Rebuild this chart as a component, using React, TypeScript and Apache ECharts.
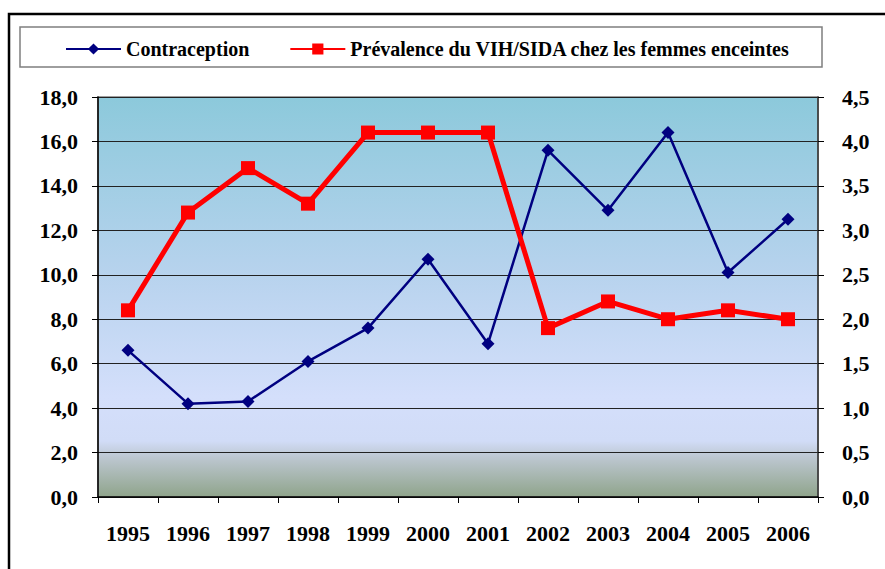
import React, { useEffect, useRef } from "react";
import * as echarts from "echarts";

const years = ["1995", "1996", "1997", "1998", "1999", "2000", "2001", "2002", "2003", "2004", "2005", "2006"];
const contraception = [6.6, 4.2, 4.3, 6.1, 7.6, 10.7, 6.9, 15.6, 12.9, 16.4, 10.1, 12.5];
const prevalence = [2.1, 3.2, 3.7, 3.3, 4.1, 4.1, 4.1, 1.9, 2.2, 2.0, 2.1, 2.0];
const seriesNames = ["Contraception", "Prévalence du VIH/SIDA chez les femmes enceintes"];

const FONT = "serif";
const fmt = (v: number) => v.toFixed(1).replace(".", ",");

export default function App() {
  const ref = useRef<HTMLDivElement>(null);
  useEffect(() => {
    if (!ref.current) return;
    const chart = echarts.init(ref.current, null, { renderer: "svg" });
    chart.setOption({
      animation: false,
      backgroundColor: "#ffffff",
      textStyle: { fontFamily: FONT },
      graphic: [
        {
          type: "rect",
          z: -10,
          shape: { x: 9, y: 14, width: 900, height: 600 },
          style: { fill: "none", stroke: "#000", lineWidth: 2.5 },
        },
        {
          type: "rect",
          z: -5,
          shape: { x: 20, y: 27, width: 802, height: 40 },
          style: { fill: "#fff", stroke: "#7f7f7f", lineWidth: 1.5 },
        },
      ],
      legend: {
        left: 60,
        top: 34,
        itemGap: 40,
        itemWidth: 55,
        itemHeight: 14,
        textStyle: { fontFamily: FONT, fontWeight: "bold", fontSize: 20, color: "#000" },
        data: seriesNames,
      },
      grid: {
        left: 98,
        right: 67,
        top: 97,
        bottom: 72,
        show: true,
        borderColor: "#808080",
        borderWidth: 1.5,
        backgroundColor: new echarts.graphic.LinearGradient(0, 0, 0, 1, [
          { offset: 0, color: "#8CC9DB" },
          { offset: 0.45, color: "#B8D3EE" },
          { offset: 0.75, color: "#D4DFFB" },
          { offset: 0.86, color: "#D1DCF7" },
          { offset: 0.9, color: "#BDC7D1" },
          { offset: 1, color: "#8FA48B" },
        ]),
      },
      xAxis: {
        type: "category",
        data: years,
        boundaryGap: true,
        axisLine: { lineStyle: { color: "#000", width: 1.5 } },
        axisTick: { show: true, length: 6, lineStyle: { color: "#000" } },
        axisLabel: { margin: 25, color: "#000", fontFamily: FONT, fontWeight: "bold", fontSize: 22 },
      },
      yAxis: [
        {
          type: "value",
          min: 0,
          max: 18,
          interval: 2,
          axisLine: { show: true, lineStyle: { color: "#000", width: 1.5 } },
          axisTick: { show: true, length: 6, lineStyle: { color: "#000" } },
          splitLine: { show: true, lineStyle: { color: "#222", width: 1 } },
          axisLabel: { formatter: fmt, margin: 20, color: "#000", fontFamily: FONT, fontWeight: "bold", fontSize: 22 },
        },
        {
          type: "value",
          min: 0,
          max: 4.5,
          interval: 0.5,
          position: "right",
          axisLine: { show: true, lineStyle: { color: "#333", width: 1.5 } },
          axisTick: { show: true, length: 6, lineStyle: { color: "#000" } },
          splitLine: { show: false },
          axisLabel: { formatter: fmt, margin: 24, color: "#000", fontFamily: FONT, fontWeight: "bold", fontSize: 22 },
        },
      ],
      series: [
        {
          name: seriesNames[0],
          type: "line",
          yAxisIndex: 0,
          data: contraception,
          symbol: "diamond",
          symbolSize: 13,
          itemStyle: { color: "#000080" },
          lineStyle: { color: "#000080", width: 2.5 },
          z: 3,
        },
        {
          name: seriesNames[1],
          type: "line",
          yAxisIndex: 1,
          data: prevalence,
          symbol: "rect",
          symbolSize: 14,
          itemStyle: { color: "#FF0000" },
          lineStyle: { color: "#FF0000", width: 5 },
          z: 4,
        },
      ],
    });
    return () => chart.dispose();
  }, []);
  return <div ref={ref} style={{ position: "fixed", left: 0, top: 0, width: 885, height: 569 }} />;
}
